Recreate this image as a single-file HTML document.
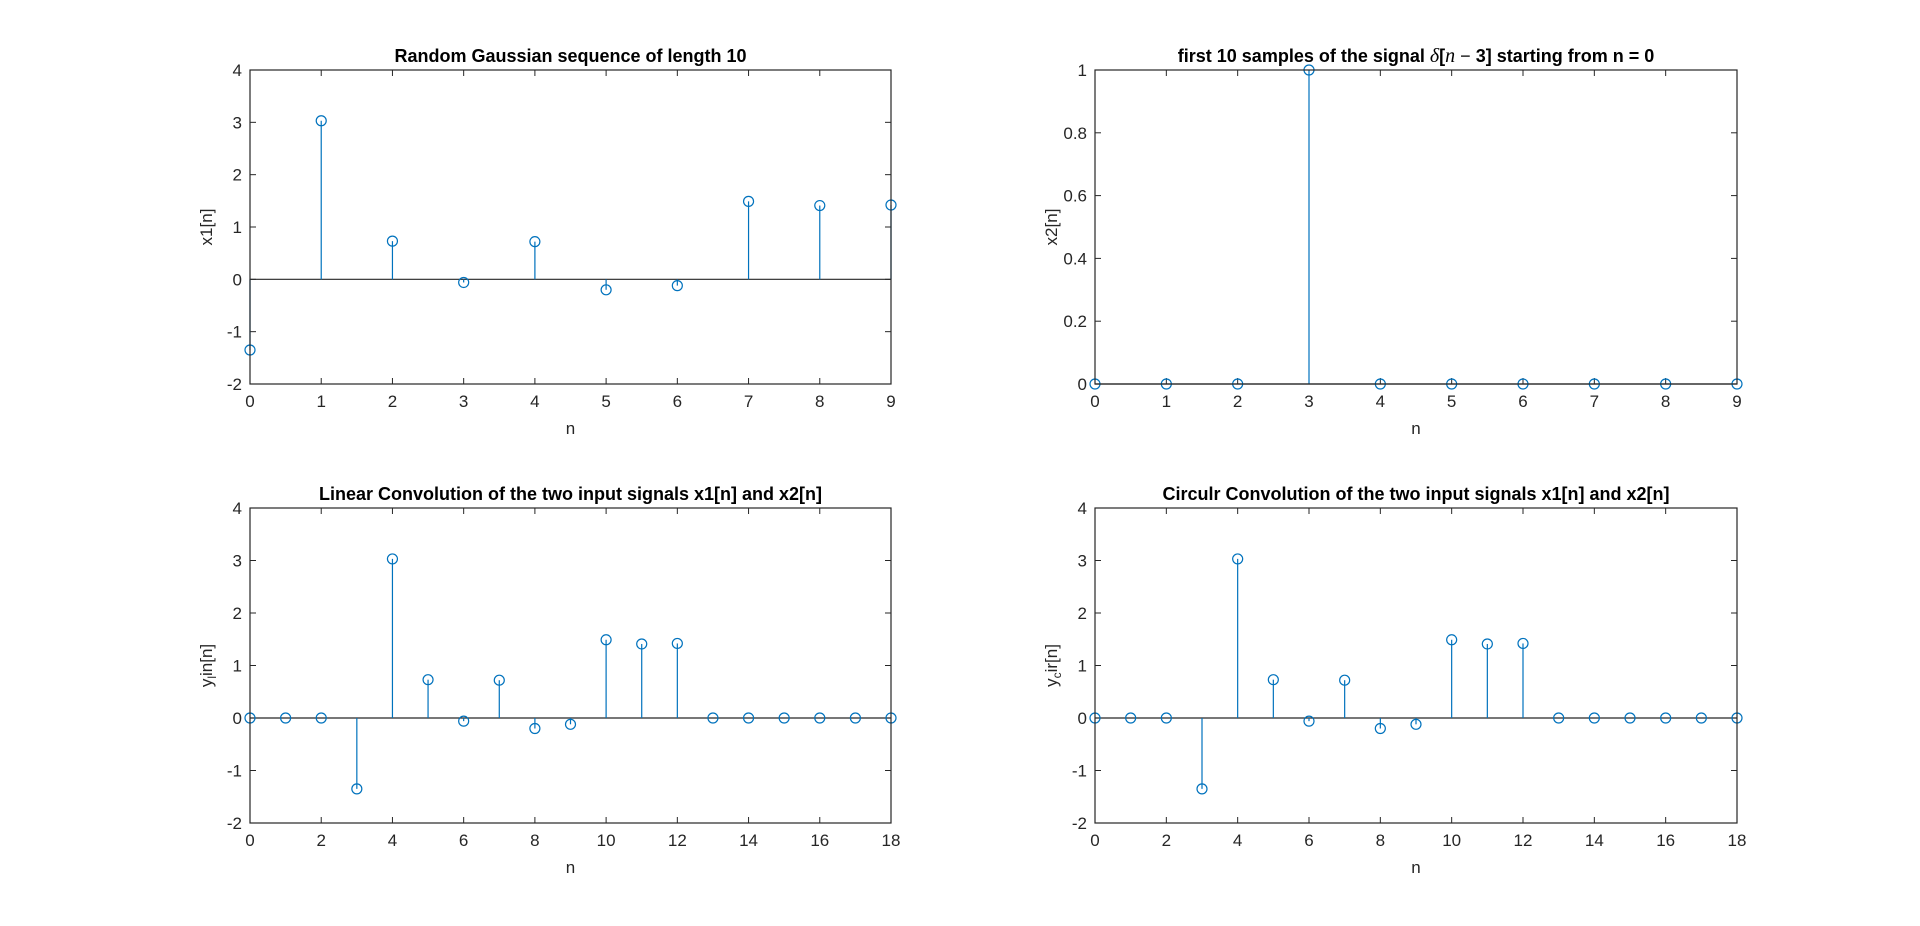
<!DOCTYPE html>
<html><head><meta charset="utf-8"><style>
html,body{margin:0;padding:0;background:#fff;}
svg{display:block;font-family:"Liberation Sans",Arial,sans-serif;}
</style></head><body>
<svg id="fig" width="1920" height="926" viewBox="0 0 1920 926" xmlns="http://www.w3.org/2000/svg">
<rect width="1920" height="926" fill="#fff"/>
</svg>
<script>
const x1Values = [-1.35, 3.03, 0.73, -0.06, 0.72, -0.20, -0.12, 1.49, 1.41, 1.42];
const x2Values = [0, 0, 0, 1, 0, 0, 0, 0, 0, 0];
const ylinValues = [0, 0, 0, -1.35, 3.03, 0.73, -0.06, 0.72, -0.20, -0.12, 1.49, 1.41, 1.42, 0, 0, 0, 0, 0, 0];
const ycirValues = [0, 0, 0, -1.35, 3.03, 0.73, -0.06, 0.72, -0.20, -0.12, 1.49, 1.41, 1.42, 0, 0, 0, 0, 0, 0];
const xTicksShort = [0,1,2,3,4,5,6,7,8,9];
const xTicksLong = [0,2,4,6,8,10,12,14,16,18];
const yTicksWide = [-2,-1,0,1,2,3,4];
const yTicksUnit = [0,0.2,0.4,0.6,0.8,1];
const yTickLabelsUnit = ['0','0.2','0.4','0.6','0.8','1'];

const NS = 'http://www.w3.org/2000/svg';
const svg = document.getElementById('fig');
function mk(tag, attrs, parent){
  const e = document.createElementNS(NS, tag);
  for (const k in attrs) e.setAttribute(k, attrs[k]);
  (parent||svg).appendChild(e); return e;
}
const BLUE = '#0072BD', AX = '#262626';

function panel(o){
  const g = mk('g', {});
  
  
  const sx = v => o.x0 + (v - o.xmin) / (o.xmax - o.xmin) * (o.x1 - o.x0);
  const sy = v => o.y1 - (v - o.ymin) / (o.ymax - o.ymin) * (o.y1 - o.y0);
  o.xt.forEach(t => {
    const x = sx(t);
    mk('line', {x1:x, x2:x, y1:o.y1, y2:o.y1-6, stroke:AX, 'stroke-width':1}, g);
    mk('line', {x1:x, x2:x, y1:o.y0, y2:o.y0+6, stroke:AX, 'stroke-width':1}, g);
    const tx = mk('text', {x:x, y:o.y1+23, 'text-anchor':'middle', 'font-size':17, fill:AX}, g);
    
    
    tx.textContent = t;
  });
  o.yt.forEach((t, i) => {
    const y = sy(t);
    mk('line', {x1:o.x0, x2:o.x0+6, y1:y, y2:y, stroke:AX, 'stroke-width':1}, g);
    mk('line', {x1:o.x1, x2:o.x1-6, y1:y, y2:y, stroke:AX, 'stroke-width':1}, g);
    const tx = mk('text', {x:o.x0-8, y:y+6, 'text-anchor':'end', 'font-size':17, fill:AX}, g);
    
    
    tx.textContent = o.ytl ? o.ytl[i] : t;
  });
  const y0 = sy(0);
  const bl = mk('line', {x1:o.x0, x2:o.x1, y1:y0, y2:y0, stroke:AX, 'stroke-width':1.2}, g);
  
  
  o.data.forEach((v, i) => {
    const x = sx(i), y = sy(v);
    const st = mk('line', {x1:x, x2:x, y1:y0, y2:y, stroke:BLUE, 'stroke-width':1.2}, g);
    
    
    const c = mk('circle', {cx:x, cy:y, r:5, fill:'none', stroke:BLUE, 'stroke-width':1.2}, g);
    
    
  });
  mk('rect', {x:o.x0, y:o.y0, width:o.x1-o.x0, height:o.y1-o.y0, fill:'none', stroke:AX, 'stroke-width':1.2}, g);
  const tt = mk('text', {x:(o.x0+o.x1)/2, y:o.y0-8, 'text-anchor':'middle', 'font-size':18, 'font-weight':'bold', fill:'#000'}, g);
  
  
  tt.innerHTML = o.title;
  const xl = mk('text', {x:(o.x0+o.x1)/2, y:o.y1+50, 'text-anchor':'middle', 'font-size':17, fill:AX}, g);
  
  
  xl.textContent = 'n';
  const cy = (o.y0+o.y1)/2, lx = o.x0 - 38;
  const yl = mk('text', {x:lx, y:cy, 'text-anchor':'middle', 'font-size':17, fill:AX, transform:`rotate(-90 ${lx} ${cy})`}, g);
  
  
  yl.innerHTML = o.ylabel;
}

panel({name:'x1-plot', x0:250, x1:891, y0:70, y1:384, xmin:0, xmax:9, ymin:-2, ymax:4,
  xt:xTicksShort, yt:yTicksWide, data:x1Values,
  title:'Random Gaussian sequence of length 10', ylabel:'x1[n]'});
panel({name:'x2-plot', x0:1095, x1:1737, y0:70, y1:384, xmin:0, xmax:9, ymin:0, ymax:1,
  xt:xTicksShort, yt:yTicksUnit, ytl:yTickLabelsUnit, data:x2Values,
  title:'first 10 samples of the signal <tspan font-family="Liberation Serif,serif" font-style="italic" font-weight="normal" font-size="20">δ</tspan>[<tspan font-family="Liberation Serif,serif" font-style="italic" font-weight="normal" font-size="20">n</tspan> <tspan font-weight="normal">−</tspan> 3] starting from n = 0', ylabel:'x2[n]'});
panel({name:'linear-convolution-plot', x0:250, x1:891, y0:508, y1:823, xmin:0, xmax:18, ymin:-2, ymax:4,
  xt:xTicksLong, yt:yTicksWide, data:ylinValues,
  title:'Linear Convolution of the two input signals x1[n] and x2[n]', ylabel:'y<tspan font-size="12" dy="4">l</tspan><tspan dy="-4">in[n]</tspan>'});
panel({name:'circular-convolution-plot', x0:1095, x1:1737, y0:508, y1:823, xmin:0, xmax:18, ymin:-2, ymax:4,
  xt:xTicksLong, yt:yTicksWide, data:ycirValues,
  title:'Circulr Convolution of the two input signals x1[n] and x2[n]', ylabel:'y<tspan font-size="12" dy="4">c</tspan><tspan dy="-4">ir[n]</tspan>'});
</script>
</body></html>
